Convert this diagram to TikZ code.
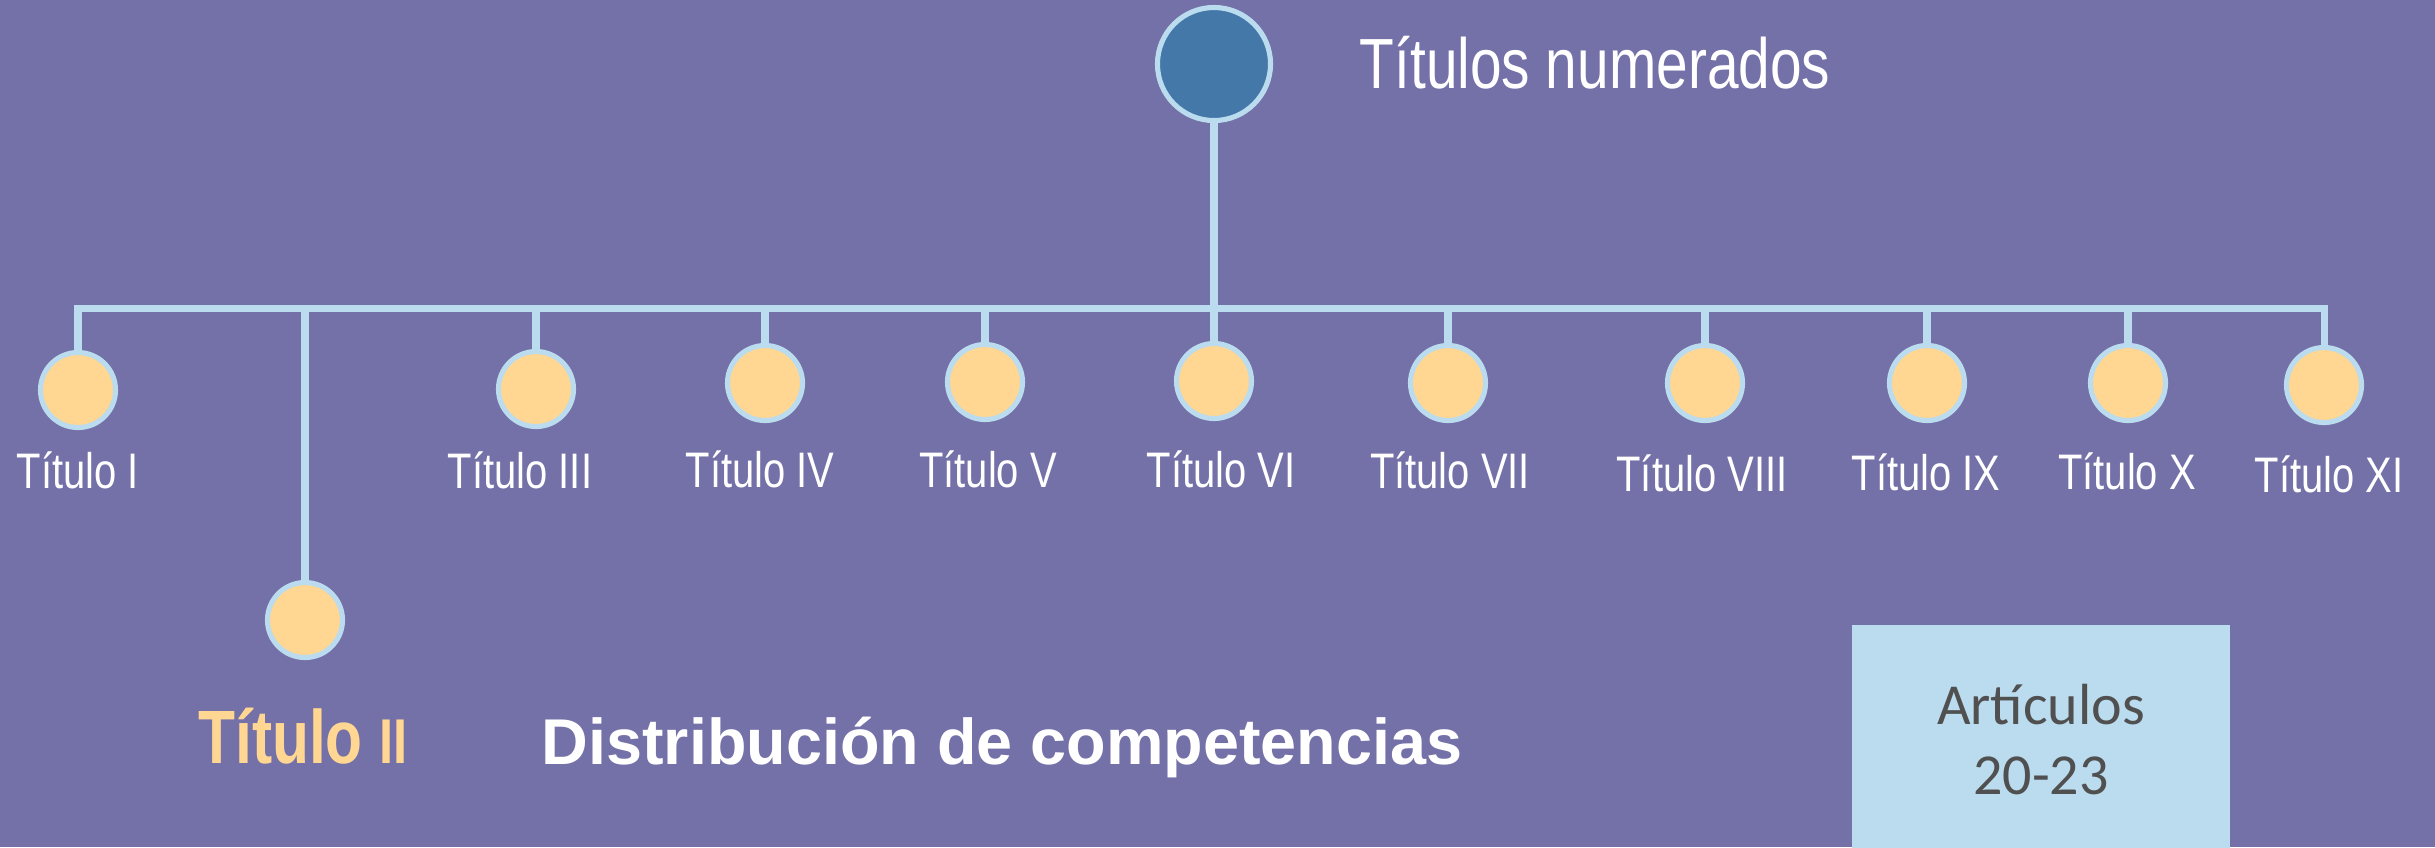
\documentclass[tikz,border=0pt]{standalone}
\usepackage{fontspec}
\setmainfont{Liberation Sans}
\newfontfamily\narrowfont[FakeStretch=0.80]{Liberation Sans}
\newfontfamily\boxfont{Carlito}
\usetikzlibrary{positioning}
\definecolor{bgpurple}{RGB}{116,112,168}
\definecolor{linkblue}{RGB}{186,220,238}
\definecolor{topblue}{RGB}{67,120,168}
\definecolor{dotorange}{RGB}{255,214,146}
\definecolor{boxblue}{RGB}{187,220,238}
\definecolor{boxgray}{RGB}{80,80,80}
\tikzset{
	link/.style={draw=linkblue, line width=2pt},
	dot/.style={circle, fill=dotorange, draw=linkblue, line width=1.45pt, minimum size=0.75cm, inner sep=0pt},
	topdot/.style={dot, fill=topblue, minimum size=1.13cm}
}
\tikzset{
	tag/.style={anchor=base, inner sep=0pt, text=white, font=\narrowfont\fontsize{14.2}{17}\selectfont},
	box/.style={fill=boxblue, minimum width=3.78cm, minimum height=2.3cm, align=center, text=boxgray, font=\boxfont\fontsize{16.5}{19.9}\selectfont}
}

\begin{document}
\begin{tikzpicture}[x=0.01cm, y=-0.01cm]
\fill[bgpurple] (0,0) rectangle (2435,847);
\useasboundingbox (0,0) rectangle (2435,847);

% top of the tree
\node[topdot] (top) at (1214, 64) {};
\node[anchor=base west, inner sep=0pt, text=white, font=\narrowfont\fontsize{20.2}{24}\selectfont] (toplabel) at (1359, 88) {Títulos numerados};
\coordinate (bar) at (1214, 308);

% one dot per titulo
\node[dot] (t1) at (78, 390) {};
\node[dot] (t2) at (305, 620) {};
\node[dot] (t3) at (536, 389) {};
\node[dot] (t4) at (765, 383) {};
\node[dot] (t5) at (985, 382) {};
\node[dot] (t6) at (1214, 381) {};
\node[dot] (t7) at (1448, 383) {};
\node[dot] (t8) at (1705, 383) {};
\node[dot] (t9) at (1927, 383) {};
\node[dot] (t10) at (2128, 383) {};
\node[dot] (t11) at (2324, 385) {};

\node[tag] (n1) at (78, 488) {Título I};
\node[tag] (n3) at (520, 488) {Título III};
\node[tag] (n4) at (760, 487) {Título IV};
\node[tag] (n5) at (988, 487) {Título V};
\node[tag] (n6) at (1221, 487) {Título VI};
\node[tag] (n7) at (1450, 488) {Título VII};
\node[tag] (n8) at (1702, 491) {Título VIII};
\node[tag] (n9) at (1926, 490) {Título IX};
\node[tag] (n10) at (2127, 489) {Título X};
\node[tag] (n11) at (2329, 492) {Título XI};

\draw[link] (top) -- (bar);
\draw[link] (t1) |- (bar) -| (t11);
\foreach \n in {2,...,10}
	\draw[link] (t\n) -- (t\n |- bar);

% bottom line
\node[anchor=base, inner sep=0pt, text=dotorange, font=\narrowfont\bfseries\fontsize{21.5}{24}\selectfont] (t2label) at (303, 763) {Título {\fontsize{18}{20}\selectfont II}};
\node[anchor=base west, inner sep=0pt, text=white, font=\bfseries\fontsize{18.4}{22}\selectfont] (subject) at (541, 764) {Distribución de competencias};
\node[box] (arts) at (2041, 740) {Artículos\\20-23};
\end{tikzpicture}
\end{document}
